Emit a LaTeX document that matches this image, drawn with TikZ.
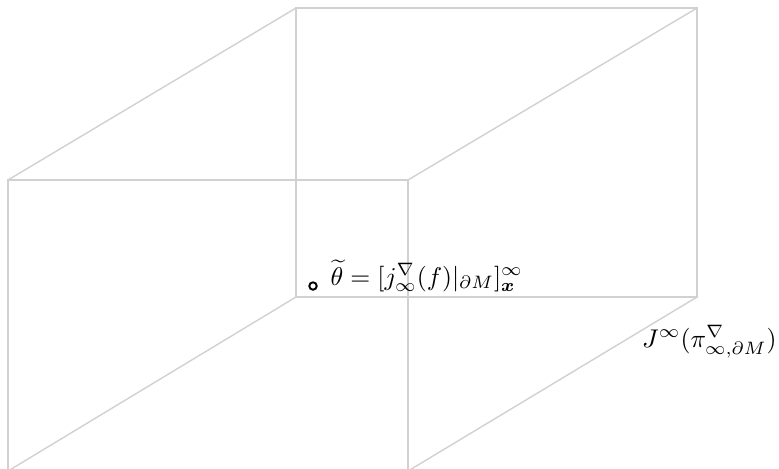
\documentclass[tikz,border=0pt]{standalone}
\usepackage{amsmath,amssymb,bm}

\begin{document}
\begin{tikzpicture}[x=0.39pt,y=-0.39pt,
    edge/.style={draw=black!18, line width=0.55pt},
    pnt/.style={circle, draw, line width=0.75pt, inner sep=0pt, minimum size=2.9pt}]
  \useasboundingbox (0,0) rectangle (779,468);

  % front face
  \coordinate (fa) at (8,180);
  \coordinate (fb) at (408,180);
  \coordinate (fc) at (408,471);
  \coordinate (fd) at (8,471);
  % back face
  \coordinate (ba) at (296,8);
  \coordinate (bb) at (697,8);
  \coordinate (bc) at (697,297);
  \coordinate (bd) at (296,297);

  \draw[edge] (fa) -- (fb) -- (fc) -- (fd) -- cycle;
  \draw[edge] (ba) -- (bb) -- (bc) -- (bd) -- cycle;
  \draw[edge] (fa) -- (ba) (fb) -- (bb) (fc) -- (bc) (fd) -- (bd);

  \node[pnt] (x) at (313,286) {};
  \node[anchor=base west, inner sep=0pt] (theta) at (330,285)
    {$\widetilde{\theta}=[j^{\nabla}_{\infty}(f)|_{\partial M}]^{\infty}_{\bm{x}}$};
  \node[anchor=base east, inner sep=0pt] (jet) at (777,347)
    {$J^{\infty}(\pi^{\nabla}_{\infty,\partial M})$};
\end{tikzpicture}
\end{document}
